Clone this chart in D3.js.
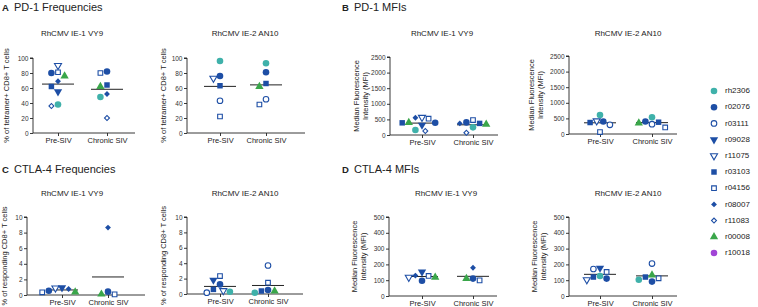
<!DOCTYPE html>
<html><head><meta charset="utf-8">
<script src="https://cdn.jsdelivr.net/npm/d3@7"></script>
<style>
html,body{margin:0;padding:0;background:#fff;}
svg{display:block;font-family:"Liberation Sans",Arial,sans-serif;}
</style></head><body>
<svg id="chart" width="758" height="307"></svg>
<script>
// ---------- data ----------
const animals = ["rh2306","r02076","r03111","r09028","r11075","r03103","r04156","r08007","r11083","r00008","r10018"];
const groups = ["Pre-SIV","Chronic SIV"];
const sectionTitles = ["PD-1 Frequencies","PD-1 MFIs","CTLA-4 Frequencies","CTLA-4 MFIs"];
const sectionLetters = ["A","B","C","D"];
const epitopes = ["RhCMV IE-1 VY9","RhCMV IE-2 AN10"];
const freqTicksPD1 = [0,20,40,60,80,100];
const mfiTicksPD1 = [0,500,1000,1500,2000,2500];
const freqTicksCTLA4 = [0,2,4,6,8,10];
const mfiTicksCTLA4 = [0,100,200,300,400,500];
const ylabelFreqPD1 = ["% of tetramer+ CD8+ T cells"];
const ylabelFreqCTLA4 = ["% of responding CD8+ T cells"];
const ylabelMFI = ["Median Fluorescence","Intensity (MFI)"];

// values per animal (order of `animals`), null = not measured
const pd1FreqVY9Pre      = [38, 80, null, 55, 90, 62, 81, 69, 36, 76, null];
const pd1FreqVY9Chronic  = [48, 82, null, null, null, 64, 80, 52, 20, 62, null];
const pd1FreqAN10Pre     = [96, 76, 43, null, 73, 63, 22, null, null, null, null];
const pd1FreqAN10Chronic = [93, 81, 45, null, null, 66, 38, null, null, 62, null];
const pd1MfiVY9Pre       = [160, 395, null, 319, 564, 390, 521, 553, 128, 400, null];
const pd1MfiVY9Chronic   = [245, 404, null, null, null, 372, 479, 372, 74, 340, null];
const pd1MfiAN10Pre      = [609, 399, 294, null, 420, 368, 63, null, null, null, null];
const pd1MfiAN10Chronic  = [536, 399, 315, null, null, 378, 210, null, null, 347, null];
const ctla4FreqVY9Pre      = [null, 0.55, null, 0.94, 0.90, null, 0.34, 0.77, null, 0.38, null];
const ctla4FreqVY9Chronic  = [null, 0.43, null, null, null, null, 0.08, 8.64, null, 0.10, null];
const ctla4FreqAN10Pre     = [0.30, 1.25, 0.17, 1.81, 0.43, 0.60, 2.33, null, null, null, null];
const ctla4FreqAN10Chronic = [0.17, 0.52, 3.70, null, null, 0.39, 1.47, null, null, 0.39, null];
const ctla4MfiVY9Pre       = [null, 97, null, 152, 118, null, 127, 129, null, 118, null];
const ctla4MfiVY9Chronic   = [null, 110, null, null, null, null, 99, 179, null, 110, null];
const ctla4MfiAN10Pre      = [127, 110, 171, 177, 103, 120, 152, null, null, null, null];
const ctla4MfiAN10Chronic  = [103, 91, 205, null, null, 120, 112, null, null, 133, null];

// ---------- styles ----------
const TEAL = "#3fb1aa", BLUE = "#1d4ea5", GREEN = "#3aa64a", PURPLE = "#a145d6";
const markerStyle = {
  rh2306: {type: d3.symbolCircle, fill: TEAL, stroke: "none"},
  r02076: {type: d3.symbolCircle, fill: BLUE, stroke: "none"},
  r03111: {type: d3.symbolCircle, fill: "#fff", stroke: BLUE, open: true},
  r09028: {type: d3.symbolTriangle, fill: BLUE, stroke: "none", rot: 180},
  r11075: {type: d3.symbolTriangle, fill: "#fff", stroke: BLUE, rot: 180, open: true},
  r03103: {type: d3.symbolSquare, fill: BLUE, stroke: "none"},
  r04156: {type: d3.symbolSquare, fill: "#fff", stroke: BLUE, open: true},
  r08007: {type: d3.symbolSquare, fill: BLUE, stroke: "none", small: true, rot: 45},
  r11083: {type: d3.symbolSquare, fill: "#fff", stroke: BLUE, small: true, open: true, rot: 45},
  r00008: {type: d3.symbolTriangle, fill: GREEN, stroke: "none"},
  r10018: {type: d3.symbolCircle, fill: PURPLE, stroke: "none"}
};
function symPath(name){
  const s = markerStyle[name];
  let size = 34;
  if (s.type === d3.symbolTriangle) size = 30;
  if (s.type === d3.symbolSquare) size = 30;
  if (s.small) size = 17;
  if (s.open) size *= 0.72;
  return d3.symbol().type(s.type).size(size)();
}

const svg = d3.select("#chart");

// ---------- layout ----------
const panels = [
  {sec:0, ep:0, pre:pd1FreqVY9Pre, chr:pd1FreqVY9Chronic, ticks:freqTicksPD1, ylab:ylabelFreqPD1,
   x0:33, x1:135, cats:[58,107], yr:[133,58], ylx:7, ty:36, tx:72},
  {sec:0, ep:1, pre:pd1FreqAN10Pre, chr:pd1FreqAN10Chronic, ticks:freqTicksPD1, ylab:ylabelFreqPD1,
   x0:187, x1:305, cats:[220,266], yr:[133,58], ylx:164, ty:36, tx:245},
  {sec:1, ep:0, pre:pd1MfiVY9Pre, chr:pd1MfiVY9Chronic, ticks:mfiTicksPD1, ylab:ylabelMFI,
   x0:390, x1:498, cats:[422,473], yr:[135,57], ylx:357, ty:36, tx:442},
  {sec:1, ep:1, pre:pd1MfiAN10Pre, chr:pd1MfiAN10Chronic, ticks:mfiTicksPD1, ylab:ylabelMFI,
   x0:569, x1:677, cats:[600,652], yr:[134,56], ylx:532, ty:36, tx:628},
  {sec:2, ep:0, pre:ctla4FreqVY9Pre, chr:ctla4FreqVY9Chronic, ticks:freqTicksCTLA4, ylab:ylabelFreqCTLA4,
   x0:27, x1:145, cats:[62,108], yr:[295,217], ylx:5, ty:196, tx:72},
  {sec:2, ep:1, pre:ctla4FreqAN10Pre, chr:ctla4FreqAN10Chronic, ticks:freqTicksCTLA4, ylab:ylabelFreqCTLA4,
   x0:187, x1:303, cats:[220,268], yr:[294,217], ylx:164, ty:196, tx:245},
  {sec:3, ep:0, pre:ctla4MfiVY9Pre, chr:ctla4MfiVY9Chronic, ticks:mfiTicksCTLA4, ylab:ylabelMFI,
   x0:389, x1:497, cats:[422,473], yr:[296,217], ylx:355, ty:196, tx:446},
  {sec:3, ep:1, pre:ctla4MfiAN10Pre, chr:ctla4MfiAN10Chronic, ticks:mfiTicksCTLA4, ylab:ylabelMFI,
   x0:569, x1:677, cats:[600,652], yr:[296,217], ylx:535, ty:196, tx:628}
];

// section headers
const headerPos = [[2,11],[342,11],[2,173],[342,173]];
sectionTitles.forEach((t,i)=>{
  const g = svg.append("text").attr("x",headerPos[i][0]).attr("y",headerPos[i][1])
    .attr("font-size","11px").attr("fill","#222");
  g.append("tspan").attr("font-weight","bold").attr("font-size","9.5px").text(sectionLetters[i]);
  g.append("tspan").attr("dx","2").text(" " + t);
});

// beeswarm-style dodge in pixel space
function dodge(points, cx, minDist){
  const placed = [];
  const sorted = points.slice().sort((a,b)=>a.py-b.py);
  sorted.forEach(p=>{
    const step = minDist/2;
    for (let k=0;k<40;k++){
      const off = k===0 ? 0 : (k%2 ? -1 : 1) * Math.ceil(k/2) * step;
      const x = cx + off;
      const ok = placed.every(q => Math.hypot(q.px - x, q.py - p.py) >= minDist);
      if (ok){ p.px = x; break; }
    }
    placed.push(p);
  });
  return sorted;
}

panels.forEach(P=>{
  const g = svg.append("g");
  const y = d3.scaleLinear().domain([P.ticks[0], P.ticks[P.ticks.length-1]]).range(P.yr);
  const x = d3.scalePoint().domain(groups).range(P.cats).padding(0);

  // y axis
  const yAxis = d3.axisLeft(y).tickValues(P.ticks).tickSize(3).tickPadding(1.5).tickFormat(d3.format("d"));
  const ya = g.append("g").attr("transform",`translate(${P.x0},0)`).call(yAxis);
  ya.select(".domain").attr("stroke","#222").attr("stroke-width",0.9).attr("d",`M-3,${P.yr[1]}H0V${P.yr[0]}`);
  ya.selectAll(".tick line").attr("stroke","#222").attr("stroke-width",0.9);
  ya.selectAll(".tick text").attr("font-size","6.5px").attr("fill","#333").attr("font-family","Liberation Sans, Arial, sans-serif");

  // x axis
  const xAxis = d3.axisBottom(x).tickSize(3).tickPadding(2);
  const xa = g.append("g").attr("transform",`translate(0,${P.yr[0]})`).call(xAxis);
  xa.select(".domain").attr("stroke","#222").attr("stroke-width",0.9).attr("d",`M${P.x0},0H${P.x1}`);
  xa.selectAll(".tick line").attr("stroke","#222").attr("stroke-width",0.9);
  xa.selectAll(".tick text").attr("font-size","7.5px").attr("fill","#222").attr("font-family","Liberation Sans, Arial, sans-serif");

  // title
  g.append("text").attr("x",P.tx).attr("y",P.ty)
    .attr("text-anchor","middle").attr("font-size","8px").attr("fill","#222").text(epitopes[P.ep]);

  // y label
  const midY = (P.yr[0]+P.yr[1])/2;
  P.ylab.forEach((line,i)=>{
    g.append("text").attr("transform",`translate(${P.ylx + i*9},${midY}) rotate(-90)`)
      .attr("text-anchor","middle").attr("dominant-baseline","middle")
      .attr("font-size","7.5px").attr("fill","#222").text(line);
  });

  // points + mean lines
  [P.pre, P.chr].forEach((vals, gi)=>{
    const grp = groups[gi];
    const cx = x(grp);
    const pts = animals.map((a,i)=>({animal:a, v:vals[i]})).filter(d=>d.v!==null)
      .map(d=>({...d, py:y(d.v)}));
    dodge(pts, cx, 6.6);
    const m = d3.mean(pts, d=>d.v);
    g.append("line").attr("x1",cx-16).attr("x2",cx+16).attr("y1",y(m)).attr("y2",y(m))
      .attr("stroke","#222").attr("stroke-width",1);
    g.selectAll(null).data(pts).enter().append("path")
      .attr("d",d=>symPath(d.animal))
      .attr("transform",d=>`translate(${d.px},${d.py}) rotate(${markerStyle[d.animal].rot||0})`)
      .attr("fill",d=>markerStyle[d.animal].fill)
      .attr("stroke",d=>markerStyle[d.animal].stroke)
      .attr("stroke-width",1.1);
  });
});

// legend
const lg = svg.append("g");
animals.forEach((a,i)=>{
  const yy = 91 + i*16.2;
  const s = markerStyle[a];
  lg.append("path").attr("d",symPath(a))
    .attr("transform",`translate(714,${yy}) rotate(${s.rot||0})`)
    .attr("fill",s.fill).attr("stroke",s.stroke).attr("stroke-width",1.1);
  lg.append("text").attr("x",725).attr("y",yy).attr("dominant-baseline","middle")
    .attr("font-size","8px").attr("fill","#222").text(a);
});
</script>
</body></html>
